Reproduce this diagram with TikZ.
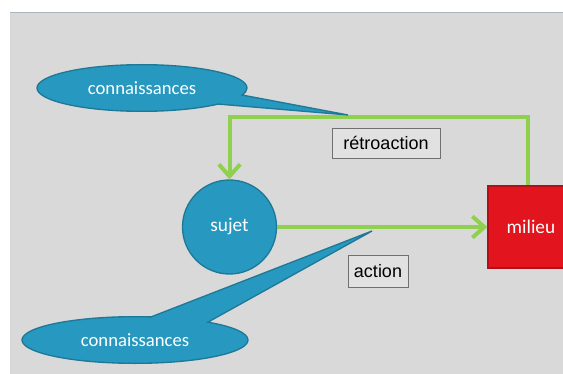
\documentclass[tikz,border=0pt]{standalone}
\usepackage{fontspec}
\setmainfont{Carlito}
\newfontfamily\arialfont{Liberation Sans}
\usetikzlibrary{shapes.geometric,shapes.callouts,arrows.meta}
\definecolor{panel}{HTML}{D9D9D9}
\definecolor{topline}{HTML}{A9B6BF}
\definecolor{tealfill}{HTML}{2799C0}
\definecolor{tealdraw}{HTML}{1E7896}
\definecolor{redfill}{HTML}{E2141D}
\definecolor{reddraw}{HTML}{B30F17}
\definecolor{greenline}{HTML}{8FD14F}
\definecolor{labelborder}{HTML}{707070}
\tikzset{
  bubble/.style={ellipse callout, fill=tealfill, draw=tealdraw, line width=1pt,
    text=white, font=\fontsize{14}{16}\selectfont, inner sep=0pt,
    minimum width=157.5pt, minimum height=35pt, callout pointer arc=26},
  subjectnode/.style={circle, fill=tealfill, draw=tealdraw, line width=1pt,
    text=white, font=\fontsize{14.5}{16}\selectfont, minimum size=70.5pt, inner sep=0pt},
  envnode/.style={rectangle, fill=redfill, draw=reddraw, line width=1pt,
    text=white, font=\fontsize{14.5}{16}\selectfont, minimum width=64.5pt, minimum height=61.5pt, inner sep=0pt},
  tagbox/.style={rectangle, draw=labelborder, line width=0.6pt, fill=panel!80!white,
    font=\arialfont\fontsize{13.5}{15}\selectfont, inner sep=0pt},
  flow/.style={draw=greenline, line width=3pt,
    -{Straight Barb[length=9pt,width=16pt,line width=3pt]}},
}
\begin{document}
\begin{tikzpicture}[x=0.75pt,y=-0.75pt]
\useasboundingbox (0,0) rectangle (563,374);
\fill[white] (0,0) rectangle (563,374);
\fill[panel] (10,12) rectangle (563,374);
\draw[topline, line width=0.9pt] (10,12.5) -- (563,12.5);

\coordinate (tip1) at (348,115);
\coordinate (tip2) at (372,231);
\coordinate (fb) at (380,117);

\node[subjectnode] (sujet) at (229.5,227) {sujet};
\node[envnode] (milieu) at (531,227) {milieu};

\draw[flow] (sujet.east) -- (milieu.west);
\draw[flow] (milieu.north -| 528,0) |- (fb) -| (sujet.north);

\node[bubble, callout absolute pointer={(tip1)}] (k1) at (142,88) {connaissances};
\node[bubble, callout absolute pointer={(tip2)}, minimum width=169.5pt, callout pointer arc=32] (k2) at (135,340) {connaissances};

\node[tagbox, minimum width=81pt, minimum height=22.5pt] (retro) at (386,143) {rétroaction};
\node[tagbox, minimum width=45pt, minimum height=24pt] (act) at (378,271) {action};
\end{tikzpicture}
\end{document}
